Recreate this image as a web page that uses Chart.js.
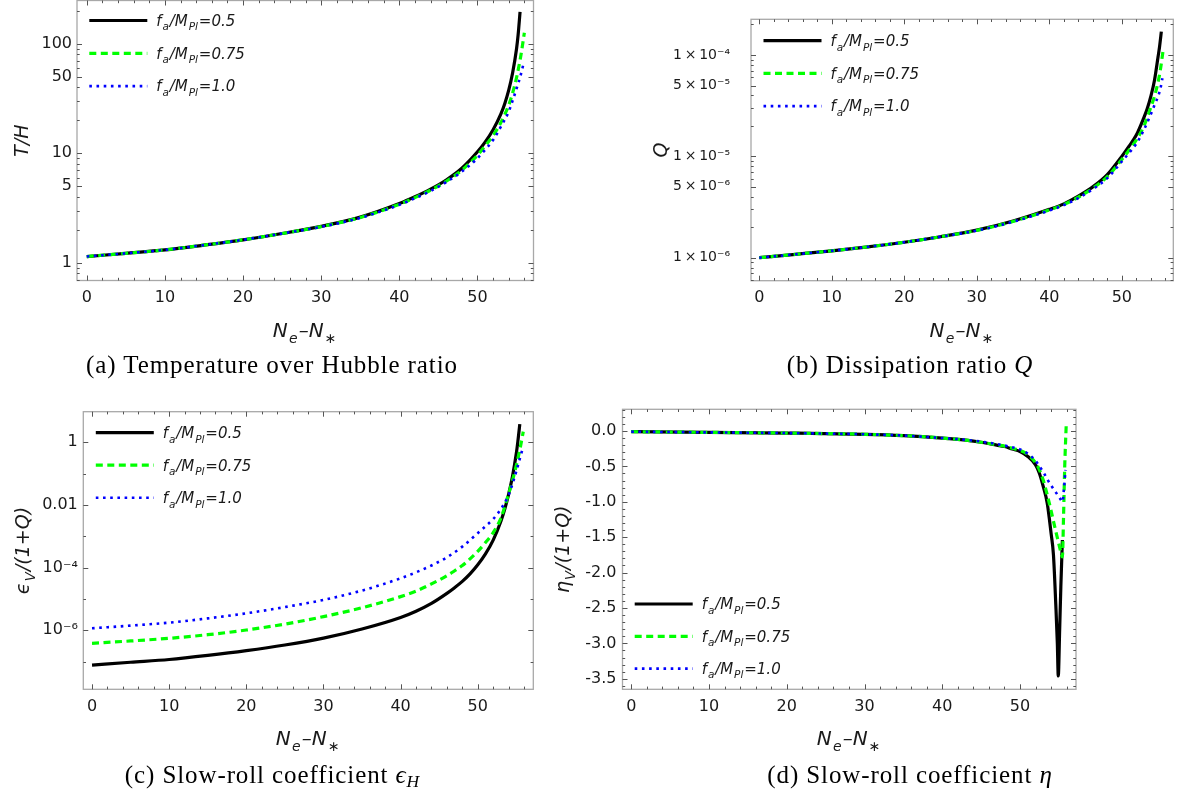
<!DOCTYPE html>
<html>
<head>
<meta charset="utf-8">
<script src="https://cdn.jsdelivr.net/npm/chart.js@4.4.1/dist/chart.umd.min.js"></script>
<style>
  html, body { margin: 0; padding: 0; background: #fff; }
  #page { position: relative; width: 1186px; height: 796px; overflow: hidden; background: #fff; }
  #page canvas { position: absolute; left: 0; top: 0; }
  .cap { position: absolute; font-family: 'Liberation Serif', serif; font-size: 25px; line-height: 25px;
         letter-spacing: 0.9px; white-space: nowrap; transform: translateX(-50%); color: #000; }
  .cap sub { font-size: 70%; vertical-align: -0.25em; line-height: 0; letter-spacing: 0; }
</style>
</head>
<body>
<div id="page">
  <canvas id="chart-th" width="1186" height="796"></canvas>
  <canvas id="chart-q" width="1186" height="796"></canvas>
  <canvas id="chart-eps" width="1186" height="796"></canvas>
  <canvas id="chart-eta" width="1186" height="796"></canvas>
  <div class="cap" style="left:272px;top:352px">(a) Temperature over Hubble ratio</div>
  <div class="cap" style="left:910px;top:352px">(b) Dissipation ratio <i>Q</i></div>
  <div class="cap" style="left:272px;top:762px">(c) Slow-roll coefficient <i>ϵ</i><sub><i>H</i></sub></div>
  <div class="cap" style="left:910px;top:762px">(d) Slow-roll coefficient <i>η</i></div>
</div>
<script>
// ═══════════════════════════════════════════════
// DATA
// ═══════════════════════════════════════════════

const legendLabels = ['f_{a}/M_{Pl}=0.5', 'f_{a}/M_{Pl}=0.75', 'f_{a}/M_{Pl}=1.0'];

// x axis (N_e - N_*)
const xMajorTicks = [0, 10, 20, 30, 40, 50];
const xTickLabels = ['0', '10', '20', '30', '40', '50'];
const xMinorTicks = [2, 4, 6, 8, 12, 14, 16, 18, 22, 24, 26, 28, 32, 34, 36, 38, 42, 44, 46, 48, 52, 54, 56];

// (a) T/H
const thN05 = [0, 5, 10, 15, 20, 25, 30, 35, 40, 42, 44, 46, 48, 50, 51, 52, 53, 53.5, 54, 54.5, 55, 55.2, 55.45];
const thV05 = [1.14, 1.22, 1.31, 1.45, 1.62, 1.85, 2.15, 2.61, 3.47, 4.0, 4.7, 5.7, 7.3, 10.3, 12.7, 16.4, 22.9, 28.5, 37.6, 54.3, 90, 120, 195];
const thN075 = [0, 5, 10, 15, 20, 25, 30, 35, 40, 42, 44, 46, 48, 50, 51, 52, 53, 54, 54.5, 55, 55.5, 55.75, 56.0];
const thV075 = [1.14, 1.22, 1.31, 1.45, 1.62, 1.85, 2.14, 2.59, 3.42, 3.93, 4.6, 5.55, 7.0, 9.6, 11.7, 14.5, 19.05, 27.5, 35.5, 49, 74, 95.5, 126];
const thN10 = [0, 5, 10, 15, 20, 25, 30, 35, 40, 42, 44, 46, 48, 50, 51, 52, 53, 54, 54.5, 55, 55.5, 55.9];
const thV10 = [1.14, 1.22, 1.31, 1.45, 1.62, 1.85, 2.13, 2.57, 3.38, 3.88, 4.52, 5.45, 6.8, 9.0, 10.8, 13.2, 17.5, 24, 30.2, 38.9, 50.7, 66];
const thTicks = [1, 5, 10, 50, 100];
const thTickLabels = ['1', '5', '10', '50', '100'];
const thMinorTicks = [0.7, 0.8, 0.9, 2, 3, 4, 6, 7, 8, 9, 20, 30, 40, 60, 70, 80, 90, 200];

// (b) Q
const qN05 = [0, 5, 10, 15, 20, 25, 30, 35, 40, 42, 44, 46, 48, 50, 51, 52, 53, 53.5, 54, 54.5, 55, 55.2, 55.45];
const qV05 = [1.0e-6, 1.08e-6, 1.17e-6, 1.28e-6, 1.42e-6, 1.61e-6, 1.87e-6, 2.3e-6, 3.0e-6, 3.4e-6, 4.05e-6, 5.0e-6, 6.6e-6,
              1.0e-5, 1.26e-5, 1.62e-5, 2.37e-5, 2.95e-5, 3.9e-5, 5.6e-5, 9.6e-5, 1.2e-4, 1.7e-4];
const qN075 = [0, 5, 10, 15, 20, 25, 30, 35, 40, 42, 44, 46, 48, 50, 51, 52, 53, 54, 54.5, 55, 55.3, 55.7];
const qV075 = [1.0e-6, 1.08e-6, 1.17e-6, 1.28e-6, 1.42e-6, 1.61e-6, 1.86e-6, 2.28e-6, 2.96e-6, 3.35e-6, 3.95e-6, 4.85e-6, 6.3e-6,
               9.3e-6, 1.15e-5, 1.45e-5, 1.95e-5, 3.05e-5, 3.9e-5, 5.4e-5, 7.0e-5, 1.12e-4];
const qN10 = [0, 5, 10, 15, 20, 25, 30, 35, 40, 42, 44, 46, 48, 50, 51, 52, 53, 54, 54.5, 55, 55.3, 55.6];
const qV10 = [1.0e-6, 1.08e-6, 1.17e-6, 1.28e-6, 1.42e-6, 1.61e-6, 1.85e-6, 2.26e-6, 2.92e-6, 3.3e-6, 3.88e-6, 4.75e-6, 6.1e-6,
              8.9e-6, 1.08e-5, 1.33e-5, 1.8e-5, 2.6e-5, 3.2e-5, 3.9e-5, 4.6e-5, 5.9e-5];
const qTicks = [1e-6, 5e-6, 1e-5, 5e-5, 1e-4];
const qTickLabels = ['1\u2009×\u200910⁻⁶', '5\u2009×\u200910⁻⁶', '1\u2009×\u200910⁻⁵', '5\u2009×\u200910⁻⁵', '1\u2009×\u200910⁻⁴'];
const qMinorTicks = [6e-7, 7e-7, 8e-7, 9e-7, 2e-6, 3e-6, 4e-6, 6e-6, 7e-6, 8e-6, 9e-6,
                     2e-5, 3e-5, 4e-5, 6e-5, 7e-5, 8e-5, 9e-5, 2e-4];

// (c) eps_V/(1+Q)
const epsN05 = [0, 5, 10, 15, 20, 25, 30, 35, 40, 42, 44, 46, 47, 48, 49, 50, 51, 52, 53, 53.5, 54, 54.5, 55, 55.2, 55.45];
const epsV05 = [7.76e-8, 9.55e-8, 1.17e-7, 1.58e-7, 2.24e-7, 3.39e-7, 5.62e-7, 1.10e-6, 2.57e-6, 4.07e-6, 7.24e-6, 1.51e-5,
                2.29e-5, 3.63e-5, 6.31e-5, 1.23e-4, 2.75e-4, 7.59e-4, 3.02e-3, 7.41e-3, 0.0219, 0.0813, 0.447, 1.07, 3.8];
const epsN075 = [0, 5, 10, 15, 20, 25, 30, 35, 40, 42, 44, 46, 47, 48, 49, 50, 51, 52, 53, 54, 54.5, 55, 55.5, 55.9];
const epsV075 = [3.85e-7, 4.57e-7, 5.56e-7, 7.24e-7, 1.02e-6, 1.58e-6, 2.73e-6, 5.25e-6, 1.19e-5, 1.78e-5, 3.02e-5, 5.5e-5,
                 7.94e-5, 1.17e-4, 1.91e-4, 3.31e-4, 6.31e-4, 1.32e-3, 3.8e-3, 0.0229, 0.0603, 0.182, 0.661, 2.19];
const epsN10 = [0, 5, 10, 15, 20, 25, 30, 35, 40, 42, 44, 46, 48, 50, 51, 52, 53, 54, 54.5, 55, 55.5, 55.8];
const epsV10 = [1.16e-6, 1.41e-6, 1.76e-6, 2.4e-6, 3.49e-6, 5.5e-6, 9.33e-6, 1.86e-5, 4.57e-5, 7.08e-5, 1.17e-4, 2.14e-4,
                4.68e-4, 1.26e-3, 2.09e-3, 3.55e-3, 7.41e-3, 0.0209, 0.0468, 0.12, 0.331, 0.603];
const epsTicks = [1e-6, 1e-4, 0.01, 1];
const epsTickLabels = ['10⁻⁶', '10⁻⁴', '0.01', '1'];
const epsMinorTicks = [1e-7, 1e-5, 1e-3, 0.1];

// (d) eta_V/(1+Q)
const etaN05 = [0, 10, 20, 30, 35, 40, 43, 45, 47, 48, 49, 50, 51, 52, 52.5, 53, 53.5, 54, 54.3, 54.6, 54.8, 54.92, 55.1, 55.25, 55.45];
const etaV05 = [-0.01, -0.02, -0.03, -0.047, -0.065, -0.10, -0.13, -0.16, -0.2, -0.22, -0.255, -0.29, -0.36, -0.48, -0.6,
                -0.79, -1.02, -1.45, -1.75, -2.45, -3.0, -3.46, -2.8, -2.2, -1.54];
const etaN075 = [0, 10, 20, 30, 35, 40, 43, 45, 47, 48, 49, 50, 51, 52, 52.5, 53, 53.5, 54, 54.5, 55, 55.2, 55.45, 55.6, 55.75, 55.95];
const etaV075 = [-0.01, -0.02, -0.03, -0.047, -0.065, -0.10, -0.13, -0.16, -0.195, -0.215, -0.245, -0.275, -0.33, -0.45, -0.55,
                 -0.7, -0.9, -1.13, -1.37, -1.6, -1.69, -1.78, -1.2, -0.5, 0.11];
const etaN10 = [0, 10, 20, 30, 35, 40, 43, 45, 47, 48, 49, 50, 51, 52, 52.5, 53, 53.5, 54, 54.5, 55, 55.25, 55.45, 55.65, 55.85];
const etaV10 = [-0.01, -0.02, -0.03, -0.047, -0.065, -0.10, -0.125, -0.15, -0.185, -0.205, -0.23, -0.26, -0.32, -0.42, -0.5,
                -0.58, -0.68, -0.77, -0.85, -0.93, -0.97, -1.0, -0.82, -0.55];
const etaTicks = [0, -0.5, -1, -1.5, -2, -2.5, -3, -3.5];
const etaTickLabels = ['0.0', '-0.5', '-1.0', '-1.5', '-2.0', '-2.5', '-3.0', '-3.5'];
const etaMinorTicks = [0.3, 0.2, 0.1, -0.1, -0.2, -0.3, -0.4, -0.6, -0.7, -0.8, -0.9, -1.1, -1.2, -1.3, -1.4,
                       -1.6, -1.7, -1.8, -1.9, -2.1, -2.2, -2.3, -2.4, -2.6, -2.7, -2.8, -2.9,
                       -3.1, -3.2, -3.3, -3.4, -3.6];

// ═══════════════════════════════════════════════
// STYLE
// ═══════════════════════════════════════════════

const SANS  = "'DejaVu Sans', sans-serif";
const INK   = '#1a1a1a';
const FRAME = '#a8a8a8';
const TICK  = '#555555';
const X_H = 30;   // reserved height of x axis box

const lineStyles = [
  { color: '#000000', width: 3.2, dash: [] },
  { color: '#00ff00', width: 3.2, dash: [7, 4.5] },
  { color: '#0000ff', width: 2.6, dash: [2.6, 4.6] }
];

// "a_{b}" -> normal / subscript pieces
function parseRich(s) {
  const parts = [];
  s.split(/(_\{[^}]*\})/).forEach(p => {
    if (!p) return;
    if (p.startsWith('_{')) parts.push([p.slice(2, -1), true]);
    else parts.push([p, false]);
  });
  return parts;
}

function drawRich(ctx, str, x, y, size, align) {
  const parts = parseRich(str);
  const gap = size * 0.06;
  const fontOf = sub => `italic ${sub ? size * 0.7 : size}px ${SANS}`;
  let w = 0;
  parts.forEach(([t, sub]) => { ctx.font = fontOf(sub); w += ctx.measureText(t).width + (sub ? 2 * gap : 0); });
  let cx = align === 'center' ? x - w / 2 : x;
  ctx.textAlign = 'left';
  ctx.textBaseline = 'alphabetic';
  ctx.fillStyle = INK;
  parts.forEach(([t, sub]) => {
    ctx.font = fontOf(sub);
    if (sub) cx += gap;
    ctx.fillText(t, cx, y + (sub ? size * 0.3 : 0));
    cx += ctx.measureText(t).width + (sub ? gap : 0);
  });
}

// Mathematica-like frame: grey box, inward ticks on all four sides, legend, axis labels
const frameDecor = {
  id: 'frameDecor',
  afterDatasetsDraw(chart, args, o) {
    const { ctx, chartArea: a } = chart;
    const sx = chart.scales.x, sy = chart.scales.y;
    ctx.save();

    ctx.strokeStyle = FRAME;
    ctx.lineWidth = 1.3;
    ctx.strokeRect(a.left, a.top, a.right - a.left, a.bottom - a.top);

    ctx.strokeStyle = TICK;
    ctx.lineWidth = 1;
    const vTicks = (vals, len) => vals.forEach(v => {
      const p = Math.round(sx.getPixelForValue(v)) + 0.5;
      if (p < a.left || p > a.right) return;
      ctx.beginPath();
      ctx.moveTo(p, a.bottom); ctx.lineTo(p, a.bottom - len);
      ctx.moveTo(p, a.top); ctx.lineTo(p, a.top + len);
      ctx.stroke();
    });
    const hTicks = (vals, len) => vals.forEach(v => {
      const p = Math.round(sy.getPixelForValue(v)) + 0.5;
      if (p < a.top || p > a.bottom) return;
      ctx.beginPath();
      ctx.moveTo(a.left, p); ctx.lineTo(a.left + len, p);
      ctx.moveTo(a.right, p); ctx.lineTo(a.right - len, p);
      ctx.stroke();
    });
    vTicks(xMajorTicks, 5);
    vTicks(xMinorTicks, 2.7);
    hTicks(o.yMajor, 5);
    hTicks(o.yMinor, 2.7);

    // legend
    const lg = o.legend;
    chart.data.datasets.forEach((ds, i) => {
      const ry = (lg.fromBottom ? a.bottom - lg.dy : a.top + lg.dy) + i * lg.step;
      const lx = a.left + lg.dx;
      ctx.strokeStyle = ds.borderColor;
      ctx.lineWidth = ds.borderWidth;
      ctx.setLineDash(ds.borderDash);
      ctx.beginPath();
      ctx.moveTo(lx, ry); ctx.lineTo(lx + 58, ry);
      ctx.stroke();
      ctx.setLineDash([]);
      drawRich(ctx, ds.label, lx + 67, ry + 5.3, 15, 'left');
    });

    // axis titles
    drawRich(ctx, 'N_{e}–N_{∗}', (a.left + a.right) / 2, a.bottom + 56, 20, 'center');
    ctx.save();
    ctx.translate(o.yTitleX, (a.top + a.bottom) / 2);
    ctx.rotate(-Math.PI / 2);
    drawRich(ctx, o.yTitle, 0, 7, 19, 'center');
    ctx.restore();

    ctx.restore();
  }
};

function makePanel(id, p) {
  const [left, top, right, bottom] = p.frame;
  return new Chart(document.getElementById(id), {
    type: 'line',
    data: {
      datasets: p.series.map((s, i) => ({
        label: legendLabels[i],
        data: s[0].map((n, k) => ({ x: n, y: s[1][k] })),
        borderColor: lineStyles[i].color,
        borderWidth: lineStyles[i].width,
        borderDash: lineStyles[i].dash,
        order: 3 - i,
        pointRadius: 0,
        fill: false,
        cubicInterpolationMode: 'monotone'
      }))
    },
    options: {
      responsive: false,
      animation: false,
      devicePixelRatio: 1,
      events: [],
      layout: { padding: { left: left - p.yW, top: top, right: 1186 - right, bottom: 796 - bottom - X_H } },
      plugins: {
        legend: { display: false },
        tooltip: { enabled: false },
        frameDecor: { yMajor: p.yTicks, yMinor: p.yMinor, yTitle: p.yTitle, yTitleX: p.yTitleX, legend: p.legend }
      },
      scales: {
        x: {
          type: 'linear', min: p.xRange[0], max: p.xRange[1], bounds: 'data',
          grid: { display: false, drawTicks: false }, border: { display: false },
          afterBuildTicks: s => { s.ticks = xMajorTicks.map(v => ({ value: v })); },
          afterFit: s => { s.height = X_H; s.paddingLeft = 0; s.paddingRight = 0; },
          ticks: { autoSkip: false, maxRotation: 0, padding: 8, color: INK,
                   font: { family: SANS, size: 16 }, callback: (v, i) => xTickLabels[i] }
        },
        y: {
          type: p.yType, min: p.yRange[0], max: p.yRange[1], bounds: 'data', position: 'left',
          grid: { display: false, drawTicks: false }, border: { display: false },
          afterBuildTicks: s => { s.ticks = p.yTicks.map(v => ({ value: v })); },
          afterFit: s => { s.width = p.yW; s.paddingTop = 0; s.paddingBottom = 0; },
          ticks: { autoSkip: false, padding: p.yPad, color: INK,
                   font: { family: SANS, size: p.yFont }, callback: (v, i) => p.yTickLabels[i] }
        }
      }
    },
    plugins: [frameDecor]
  });
}

makePanel('chart-th', {
  frame: [77, 0.5, 533.5, 280.5], xRange: [-1.25, 57.17], yW: 77,
  yType: 'logarithmic', yRange: [0.689, 247.8],
  yTicks: thTicks, yTickLabels: thTickLabels, yMinor: thMinorTicks, yPad: 5, yFont: 16,
  yTitle: 'T/H', yTitleX: 21,
  legend: { dx: 12.3, dy: 20, step: 32.8, fromBottom: false },
  series: [[thN05, thV05], [thN075, thV075], [thN10, thV10]]
});

makePanel('chart-q', {
  frame: [751, 19.3, 1173.3, 280.7], xRange: [-1.14, 57.1], yW: 110,
  yType: 'logarithmic', yRange: [5.93e-7, 2.25e-4],
  yTicks: qTicks, yTickLabels: qTickLabels, yMinor: qMinorTicks, yPad: 21, yFont: 14,
  yTitle: 'Q', yTitleX: 660,
  legend: { dx: 12.5, dy: 21.4, step: 32.7, fromBottom: false },
  series: [[qN05, qV05], [qN075, qV075], [qN10, qV10]]
});

makePanel('chart-eps', {
  frame: [83.3, 411.7, 533.3, 689.3], xRange: [-1.13, 57.2], yW: 83,
  yType: 'logarithmic', yRange: [1.31e-8, 9.48],
  yTicks: epsTicks, yTickLabels: epsTickLabels, yMinor: epsMinorTicks, yPad: 5.5, yFont: 16,
  yTitle: 'ϵ_{V}/(1+Q)', yTitleX: 22,
  legend: { dx: 12.5, dy: 21, step: 32.5, fromBottom: false },
  series: [[epsN05, epsV05], [epsN075, epsV075], [epsN10, epsV10]]
});

makePanel('chart-eta', {
  frame: [622.5, 409.3, 1076, 689.3], xRange: [-1.13, 57.2], yW: 90,
  yType: 'linear', yRange: [-3.649, 0.306],
  yTicks: etaTicks, yTickLabels: etaTickLabels, yMinor: etaMinorTicks, yPad: 6, yFont: 16,
  yTitle: 'η_{V}/(1+Q)', yTitleX: 562,
  legend: { dx: 12.2, dy: 85.3, step: 32.3, fromBottom: true },
  series: [[etaN05, etaV05], [etaN075, etaV075], [etaN10, etaV10]]
});
</script>
</body>
</html>
